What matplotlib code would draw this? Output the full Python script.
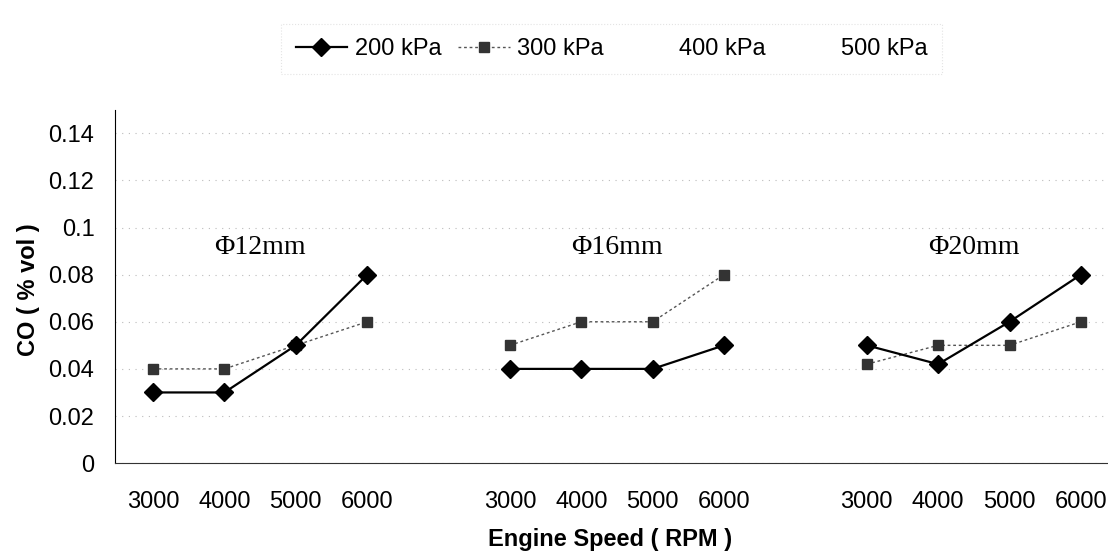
import matplotlib
matplotlib.use("Agg")
import matplotlib.pyplot as plt
from matplotlib.lines import Line2D

plt.rcParams['font.family'] = ['Liberation Sans', 'DejaVu Sans']

# Data
speeds = ['3000', '4000', '5000', '6000']
nozzles = ['\u03a612mm', '\u03a616mm', '\u03a620mm']
co_200 = [[0.03, 0.03, 0.05, 0.08],
          [0.04, 0.04, 0.04, 0.05],
          [0.05, 0.042, 0.06, 0.08]]
co_300 = [[0.04, 0.04, 0.05, 0.06],
          [0.05, 0.06, 0.06, 0.08],
          [0.042, 0.05, 0.05, 0.06]]
legend_labels = ['200 kPa', '300 kPa', '400 kPa', '500 kPa']

fig = plt.figure(figsize=(11.08, 5.6), dpi=100)
ax = fig.add_axes([0.104, 0.173, 0.896, 0.631])

# one empty category slot between groups
ticks, ticklabels = [], []
for g in range(len(nozzles)):
    xs = [g * 5 + i for i in range(len(speeds))]
    ticks += xs
    ticklabels += speeds
    ax.plot(xs, co_300[g], color='#555555', linestyle=(0, (2, 2)), linewidth=1.0,
            marker='s', markersize=7, markerfacecolor='#333333', markeredgecolor='#333333')
    ax.plot(xs, co_200[g], color='black', linestyle='-', linewidth=1.6,
            marker='D', markersize=9, markerfacecolor='black', markeredgecolor='black')
    ax.text(xs[0] + 1.5, 0.0915, nozzles[g], family=['Liberation Serif', 'DejaVu Serif'],
            fontsize=20, ha='center', va='center')

ax.set_xlim(-0.53, 13.38)
ax.set_ylim(0, 0.15)
ax.set_yticks([0, 0.02, 0.04, 0.06, 0.08, 0.1, 0.12, 0.14])
ax.set_yticklabels(['0', '0.02', '0.04', '0.06', '0.08', '0.1', '0.12', '0.14'])
ax.set_xticks(ticks)
ax.set_xticklabels(ticklabels)
ax.tick_params(axis='x', length=0, pad=20, labelsize=17)
ax.tick_params(axis='y', length=0, pad=15, labelsize=17)

ax.yaxis.grid(True, color='#bbbbbb', linestyle=(0, (1, 5)), linewidth=0.8)
ax.set_axisbelow(True)
for s in ['top', 'right']:
    ax.spines[s].set_visible(False)
ax.spines['left'].set_linestyle((0, (4, 1)))
ax.spines['left'].set_linewidth(0.8)
ax.spines['bottom'].set_linewidth(0.8)
ax.spines['bottom'].set_color('#333333')

fig.text(0.551, 0.036, 'Engine Speed ( RPM )', fontsize=17, fontweight='bold',
         ha='center', va='center')
fig.text(0.026, 0.482, 'CO ( % vol )', fontsize=17, fontweight='bold',
         rotation=90, ha='center', va='center')

handles = [
    Line2D([], [], color='black', linewidth=1.6, marker='D', markersize=9),
    Line2D([], [], color='#555555', linestyle=(0, (2, 2)), linewidth=1.0,
           marker='s', markersize=7, markerfacecolor='#333333', markeredgecolor='#333333'),
    Line2D([], [], color='none'),
    Line2D([], [], color='none'),
]
leg = fig.legend(handles, legend_labels, loc='center', bbox_to_anchor=(0.552, 0.912),
                 ncol=4, fontsize=17, frameon=True, handlelength=2.2, columnspacing=0.7,
                 handletextpad=0.3, borderpad=0.3)
leg.get_frame().set_edgecolor('#dddddd')
leg.get_frame().set_linestyle(':')
leg.get_frame().set_linewidth(0.8)
leg.get_frame().set_boxstyle('square')

fig.savefig('out.png', dpi=100)
